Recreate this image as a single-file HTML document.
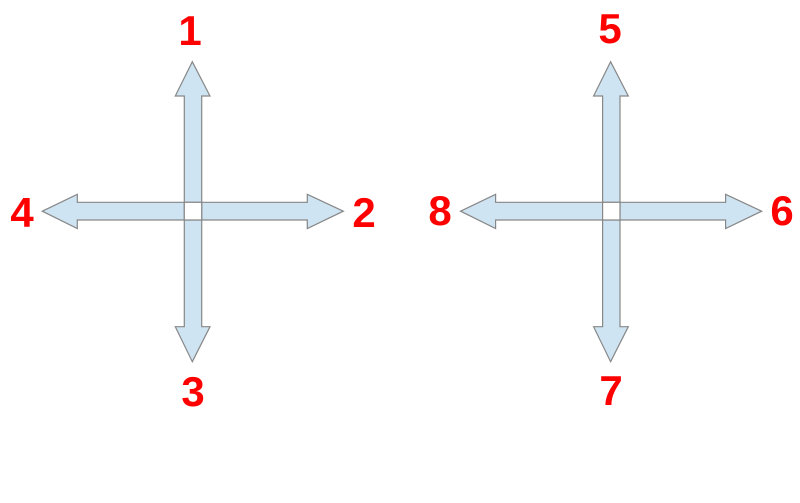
<!DOCTYPE html>
<html><head><style>html,body{margin:0;padding:0;background:#fff}svg{display:block}</style></head>
<body>
<svg width="800" height="503" viewBox="0 0 800 503" xmlns="http://www.w3.org/2000/svg">
<defs>
<g id="cross" fill="#cfe4f2" stroke="#878787" stroke-width="1.2" stroke-linejoin="miter">
  <polygon points="192.3,61.7 210,96 201.7,96 201.7,202.3 184.3,202.3 184.3,96 175.3,96"/>
  <polygon points="192.3,361.7 210,326.7 201.7,326.7 201.7,220 184.3,220 184.3,326.7 175.3,326.7"/>
  <polygon points="42.3,211.2 77.3,194.3 77.3,202.3 184.3,202.3 184.3,220 77.3,220 77.3,228.5"/>
  <polygon points="343.3,211.2 307.3,194.3 307.3,202.3 201.7,202.3 201.7,220 307.3,220 307.3,228.5"/>
  <rect x="184.3" y="202.3" width="17.4" height="17.7" fill="#fff"/>
</g>
</defs>
<use href="#cross"/>
<use href="#cross" transform="translate(418.3,0)"/>
<g fill="#ff0000" font-family="Liberation Sans, sans-serif" font-weight="bold" font-size="42" text-anchor="middle">
  <text x="190" y="45">1</text>
  <text x="364" y="227">2</text>
  <text x="193" y="406">3</text>
  <text x="22" y="227">4</text>
  <text x="610" y="43">5</text>
  <text x="782" y="225">6</text>
  <text x="611" y="405">7</text>
  <text x="440" y="225">8</text>
</g>
</svg>
</body></html>
